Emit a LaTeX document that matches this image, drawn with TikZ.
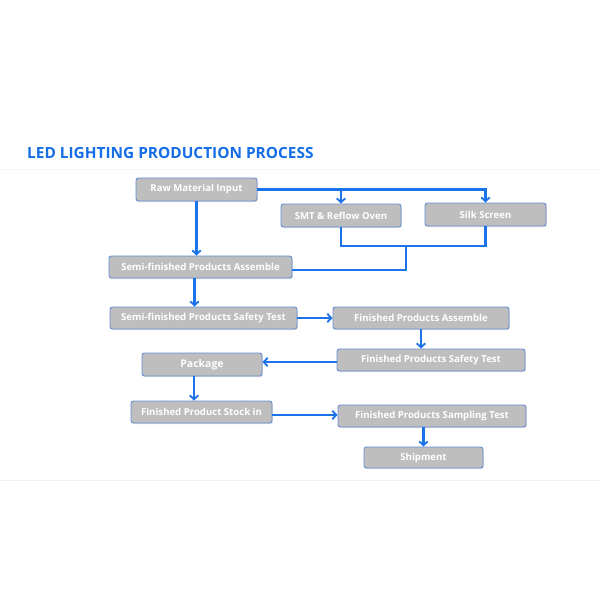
\documentclass[tikz,border=0pt]{standalone}
\usepackage{fontspec}
\setmainfont{Open Sans}
\usetikzlibrary{arrows.meta,shadows}
\definecolor{flowblue}{RGB}{26,115,232}
\definecolor{titleblue}{RGB}{22,110,230}
\definecolor{boxgray}{RGB}{190,190,190}
\definecolor{boxedge}{RGB}{100,140,210}
\begin{document}
\begin{tikzpicture}[x=1pt,y=-1pt,
  box/.style={draw=boxedge,line width=0.9pt,fill=boxgray,rounded corners=2.5pt,
    drop shadow={opacity=0.25,shadow xshift=0.8pt,shadow yshift=-1.2pt},
    text=white,font=\bfseries\fontsize{9.6}{10}\selectfont,inner sep=0pt,anchor=center},
  flow/.style={draw=flowblue,line width=2.2pt},
  arr/.style={flow,-{Straight Barb[length=4pt,width=8.5pt,line width=1.8pt]}}]
\useasboundingbox (0,0) rectangle (600,600);
\fill[white] (0,0) rectangle (600,600);
\draw[gray!8,line width=1pt] (0,169) -- (600,169);
\draw[gray!12,line width=1pt] (0,480) -- (600,480);
\node[anchor=base west,text=titleblue,font=\bfseries\fontsize{15.4}{16}\selectfont,inner sep=0pt] (title) at (27,158) {LED LIGHTING PRODUCTION PROCESS};

\node[box,minimum width=121pt,minimum height=23pt] (raw) at (196.5,189.5) {Raw Material Input};
\node[box,minimum width=120pt,minimum height=23pt] (smt) at (341,215.5) {SMT \& Reflow Oven};
\node[box,minimum width=121pt,minimum height=23pt] (silk) at (485.5,214.5) {Silk Screen};
\node[box,minimum width=183pt,minimum height=22pt] (sasm) at (200.5,267) {Semi-finished Products Assemble};
\node[box,minimum width=187pt,minimum height=22pt] (stest) at (203.5,318) {Semi-finished Products Safety Test};
\node[box,minimum width=176pt,minimum height=22pt] (fasm) at (421,318) {Finished Products Assemble};
\node[box,minimum width=188pt,minimum height=22pt] (ftest) at (431,360) {Finished Products Safety Test};
\node[box,minimum width=120pt,minimum height=23pt,font=\fontsize{10.5}{12}\selectfont\bfseries] (pack) at (202,364.5) {Package};
\node[box,minimum width=141pt,minimum height=22pt] (stock) at (201.5,412) {Finished Product Stock in};
\node[box,minimum width=188pt,minimum height=22pt] (samp) at (432,416) {Finished Products Sampling Test};
\node[box,minimum width=119pt,minimum height=21pt] (ship) at (423.5,457.5) {Shipment};

\coordinate (jn) at (406,246);
\coordinate (jm) at (406,270);

% raw material branches
\draw[arr] (raw.east) -| (silk.north);
\draw[arr] (smt.north |- raw.east) -- (smt.north);
\draw[arr] (raw.south) -- (raw.south |- sasm.north);
% merge of SMT and Silk Screen
\draw[flow] (smt.south) |- (jn) -| (silk.south);
\draw[flow] (jn) -- (jm) -- (sasm.east |- jm);
% main flow
\draw[arr] ([xshift=-6pt]sasm.south) -- ([xshift=-6pt]sasm.south |- stest.north);
\draw[arr] (stest.east) -- (stest.east -| fasm.west);
\draw[arr] (fasm.south) -- (fasm.south |- ftest.north);
\draw[arr] ([yshift=-2pt]ftest.west) -- ([yshift=-2pt]ftest.west -| pack.east);
\draw[arr] ([xshift=-8pt]pack.south) -- ([xshift=-8pt]pack.south |- stock.north);
\draw[arr] ([yshift=-3pt]stock.east) -- ([yshift=-3pt]stock.east -| samp.west);
\draw[arr] (ship.north |- samp.south) -- (ship.north);
\end{tikzpicture}
\end{document}
